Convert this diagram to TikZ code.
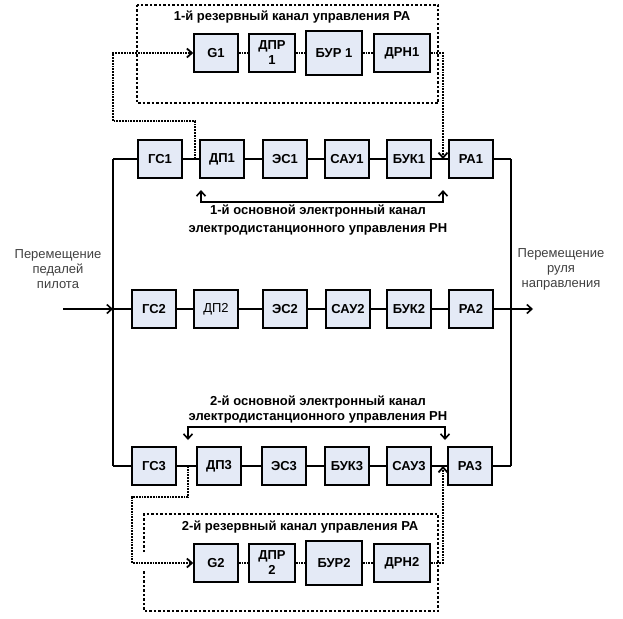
\documentclass[tikz,border=0pt]{standalone}
\usepackage{fontspec}
\setmainfont{Liberation Sans}
\usetikzlibrary{arrows.meta}
\definecolor{boxfill}{RGB}{228,234,246}
\tikzset{
  blk/.style={draw, line width=1.6pt, fill=boxfill, minimum width=44pt,
    minimum height=38pt, inner sep=1pt, align=center,
    font=\fontsize{13}{15}\selectfont\bfseries},
  blkl/.style={blk, font=\fontsize{13}{15}\selectfont},
  lbl/.style={align=center, font=\fontsize{13}{16}\selectfont\bfseries},
  note/.style={align=center, text=black!75, font=\fontsize{13}{15}\selectfont},
  wire/.style={line width=1.6pt},
  rwire/.style={line width=1.8pt, densely dotted},
  frame/.style={line width=1.2pt, dash pattern=on 2.5pt off 2pt},
  sig/.style={-{Straight Barb[length=5pt,width=9pt]}},
  bisig/.style={{Straight Barb[length=5pt,width=9pt]}-{Straight Barb[length=5pt,width=9pt]}},
}
\begin{document}
\begin{tikzpicture}[x=1pt,y=-1pt]
    \useasboundingbox (0,0) rectangle (623,618);
    %% Draw the frames of the reserve channels
    \draw[frame] (137,5) rectangle (438,103);
    \draw[frame] (144,552) -- (144,514) -- (438,514) -- (438,611) -- (144,611) -- (144,570);
    %% Draw the channel titles
    \node[lbl] (T1) at (292,17) {1-й резервный канал управления РА};
    \node[lbl, font=\fontsize{13}{18}\selectfont\bfseries] (T2) at (318,220) {1-й основной электронный канал\\электродистанционного управления РН};
    \node[lbl, font=\fontsize{13}{15}\selectfont\bfseries] (T3) at (318,410) {2-й основной электронный канал\\электродистанционного управления РН};
    \node[lbl] (T4) at (300,527) {2-й резервный канал управления РА};
    \node[note] (IN) at (58,269) {Перемещение\\педалей\\пилота};
    \node[note] (OUT) at (561,269) {Перемещение\\руля\\направления};
    %% Draw the nodes of the reserve channels
    \node[blk] (G1) at (216,53) {G1};
    \node[blk, minimum width=46pt] (DPR1) at (272,53) {ДПР\\1};
    \node[blk, minimum width=56pt, minimum height=44pt] (BUR1) at (334,53) {БУР 1};
    \node[blk, minimum width=56pt] (DRN1) at (402,53) {ДРН1};
    \node[blk] (G2) at (216,563) {G2};
    \node[blk, minimum width=46pt] (DPR2) at (272,563) {ДПР\\2};
    \node[blk, minimum width=56pt, minimum height=44pt] (BUR2) at (334,563) {БУР2};
    \node[blk, minimum width=56pt] (DRN2) at (402,563) {ДРН2};
    %% Draw the nodes of the main channels
    \node[blk] (GS1) at (160,159) {ГС1};
    \node[blk] (DP1) at (222,159) {ДП1};
    \node[blk] (ES1) at (285,159) {ЭС1};
    \node[blk] (SAU1) at (347,159) {САУ1};
    \node[blk] (BUK1) at (409,159) {БУК1};
    \node[blk] (RA1) at (471,159) {РА1};
    \node[blk] (GS2) at (154,309) {ГС2};
    \node[blkl] (DP2) at (216,309) {ДП2};
    \node[blk] (ES2) at (285,309) {ЭС2};
    \node[blk] (SAU2) at (348,309) {САУ2};
    \node[blk] (BUK2) at (409,309) {БУК2};
    \node[blk] (RA2) at (471,309) {РА2};
    \node[blk] (GS3) at (154,466) {ГС3};
    \node[blk] (DP3) at (219,466) {ДП3};
    \node[blk] (ES3) at (284,466) {ЭС3};
    \node[blk] (BUK3) at (347,466) {БУК3};
    \node[blk] (SAU3) at (409,466) {САУ3};
    \node[blk] (RA3) at (470,466) {РА3};
    %% Corners of the wires
    \coordinate (LT) at (113,159);
    \coordinate (LM) at (113,309);
    \coordinate (LB) at (113,466);
    \coordinate (RT) at (511,159);
    \coordinate (RM) at (511,309);
    \coordinate (RB) at (511,466);
    \coordinate (I) at (63,309);
    \coordinate (O) at (533,309);
    %% Draw the main wires
    \begin{scope}[every path/.style={wire}]
      \draw (LT) -- (GS1) -- (DP1) -- (ES1) -- (SAU1) -- (BUK1) -- (RA1) -- (RT);
      \draw (LM) -- (GS2) -- (DP2) -- (ES2) -- (SAU2) -- (BUK2) -- (RA2) -- (RM);
      \draw (LB) -- (GS3) -- (DP3) -- (ES3) -- (BUK3) -- (SAU3) -- (RA3) -- (RB);
      \draw (LT) -- (LB);
      \draw (RT) -- (RB);
      \draw[sig] (I) -- (LM);
      \draw[sig] (RM) -- (O);
      \draw[bisig] (201,190) -- (201,202) -- (443,202) -- (443,190);
      \draw[bisig] (188,440) -- (188,427) -- (445,427) -- (445,440);
    \end{scope}
    %% Draw the reserve wires
    \begin{scope}[every path/.style={rwire}]
      \draw[sig] (195,159) -- (195,121) -- (113,121) -- (113,53) -- (G1);
      \draw (G1) -- (DPR1) -- (BUR1) -- (DRN1);
      \draw[sig] (DRN1) -- (443,53) -- (443,159);
      \draw[sig] (188,466) -- (188,497) -- (132,497) -- (132,563) -- (G2);
      \draw (G2) -- (DPR2) -- (BUR2) -- (DRN2);
      \draw[sig] (DRN2) -- (443,563) -- (443,466);
    \end{scope}
  \end{tikzpicture}
\end{document}
